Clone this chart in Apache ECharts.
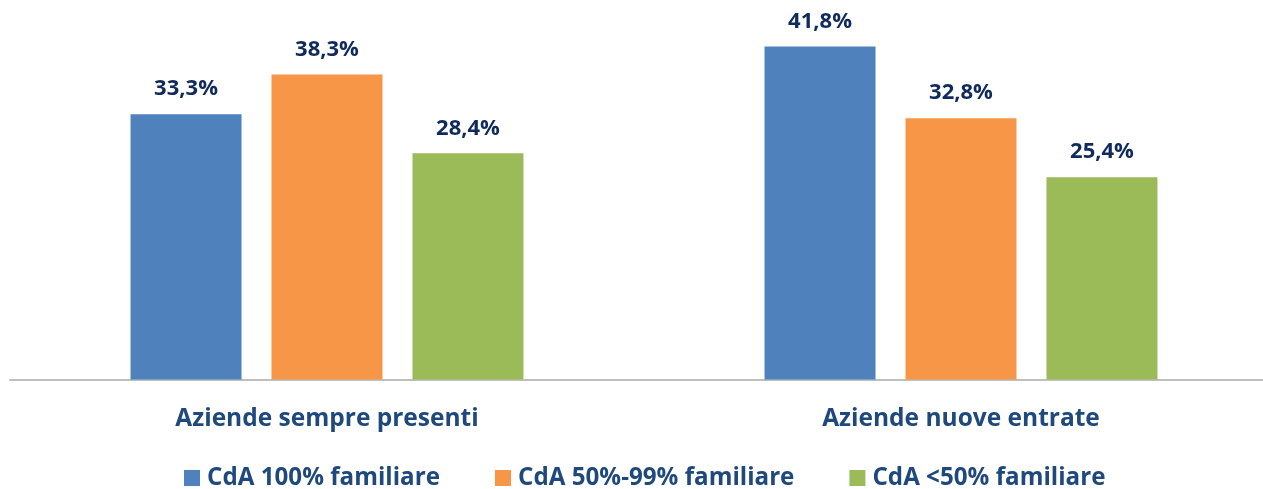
<!DOCTYPE html>
<html>
<head>
<meta charset="utf-8">
<script src="https://cdn.jsdelivr.net/npm/echarts@6/dist/echarts.min.js"></script>
<style>
html,body{margin:0;padding:0;background:#fff;}
#chart{width:1263px;height:489px;}
</style>
</head>
<body>
<div id="chart"></div>
<script>
const categories = ['Aziende sempre presenti', 'Aziende nuove entrate'];
const seriesNames = ['CdA 100% familiare', 'CdA 50%-99% familiare', 'CdA <50% familiare'];
const values100 = [33.3, 41.8];
const values50_99 = [38.3, 32.8];
const valuesUnder50 = [28.4, 25.4];

const colors = ['#4F81BD', '#F79646', '#9BBB59'];
const FONT = 'Open Sans';
const labelFmt = p => p.value.toFixed(1).replace('.', ',') + '%';

function makeSeries(name, data, color) {
  return {
    name: name,
    type: 'bar',
    data: data,
    barWidth: 111,
    barGap: '27%',
    itemStyle: { color: color },
    label: {
      show: true,
      position: 'top',
      distance: 14,
      formatter: labelFmt,
      color: '#102A5C',
      fontFamily: FONT,
      fontWeight: 'bold',
      fontSize: 22
    }
  };
}

const chart = echarts.init(document.getElementById('chart'));
chart.setOption({
  animation: false,
  color: colors,
  grid: { left: 10, width: 1268, top: 21, bottom: 109.5, outerBoundsMode: 'none', containLabel: false },
  legend: {
    bottom: -6,
    left: 179,
    itemWidth: 16,
    itemHeight: 16,
    itemGap: 55,
    icon: 'rect',
    textStyle: { color: '#1F497D', fontFamily: FONT, fontWeight: 'bold', fontSize: 24.2, padding: [0, 0, 0, 2] },
    data: seriesNames
  },
  xAxis: {
    type: 'category',
    data: categories,
    axisLine: { lineStyle: { color: '#BFBFBF', width: 2 } },
    axisTick: { show: false },
    axisLabel: { margin: 27, color: '#1F497D', fontFamily: FONT, fontWeight: 'bold', fontSize: 24.5 }
  },
  yAxis: {
    type: 'value',
    min: 0,
    max: 45,
    show: false,
    splitLine: { show: false }
  },
  series: [
    makeSeries(seriesNames[0], values100, colors[0]),
    makeSeries(seriesNames[1], values50_99, colors[1]),
    makeSeries(seriesNames[2], valuesUnder50, colors[2])
  ]
});
</script>
</body>
</html>
